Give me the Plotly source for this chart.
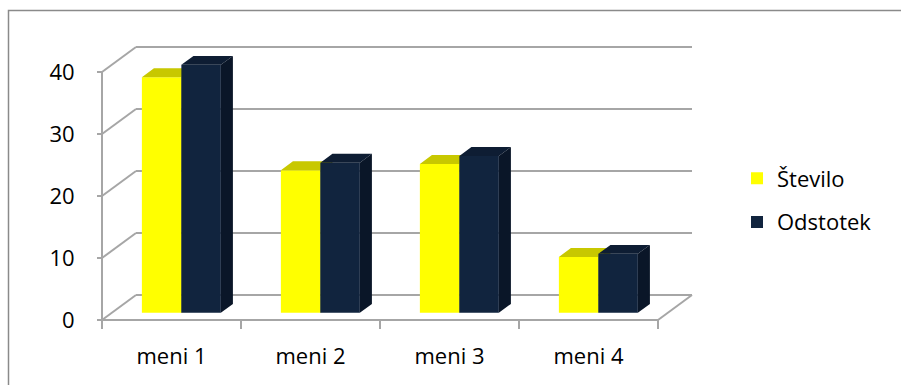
import plotly.graph_objects as go

# ---------------- data ----------------
categories = ["meni 1", "meni 2", "meni 3", "meni 4"]
stevilo = [38, 23, 24, 9]
odstotek = [40.0, 24.2, 25.3, 9.5]
y_ticks = [0, 10, 20, 30, 40]
series_names = ["Število", "Odstotek"]

# ---------------- styles / geometry ----------------
W, H = 901, 385
FONT = dict(family="Open Sans", size=22, color="#000000")
GRID = "#a6a6a6"
BORDER = "#8a8a8a"
YEL_FRONT, YEL_TOP, YEL_SIDE = "#FFFF00", "#C8C800", "#A6A600"
NAV_FRONT, NAV_TOP, NAV_SIDE = "#11243E", "#0E1D33", "#0A1628"

PX_X = 139.0        # pixels per category unit
PX_Y = 6.2          # pixels per value unit
ORIGIN_X, ORIGIN_Y = 102, 320   # pixel of front-plane (x=-0.5, y=0)
L, R, T, B = 92, 700, 40, 335   # plot area in pixels

DEPTH_X = 34 / PX_X   # full depth of the box (oblique projection)
DEPTH_Y = 25 / PX_Y
F0 = 0.29             # bars' front at this depth fraction
FD = 0.355            # bars' depth fraction
BAR_W = 0.284

x_range = [-0.5 - (ORIGIN_X - L) / PX_X, -0.5 + (R - ORIGIN_X) / PX_X]
y_range = [-(B - ORIGIN_Y) / PX_Y, (ORIGIN_Y - T) / PX_Y]
n = len(categories)
x_left, x_right = -0.5, n - 0.5
y_top = y_ticks[-1]


def px_to_paper_x(px):
    return (px - L) / (R - L)


def px_to_paper_y(py):
    return (B - py) / (B - T)


def faces(xc, vals):
    base = F0 * DEPTH_Y
    dx, dy = FD * DEPTH_X, FD * DEPTH_Y
    tx, ty, sx, sy = [], [], [], []
    for x, v in zip(xc, vals):
        xl, xr = x - BAR_W / 2, x + BAR_W / 2
        t = base + v
        tx += [xl, xr, xr + dx, xl + dx, xl, None]
        ty += [t, t, t + dy, t + dy, t, None]
        sx += [xr, xr + dx, xr + dx, xr, xr, None]
        sy += [base, base + dy, t + dy, t, base, None]
    return tx, ty, sx, sy


shift = F0 * DEPTH_X
x_yel = [i - BAR_W / 2 + shift for i in range(n)]
x_nav = [i + BAR_W / 2 + shift for i in range(n)]

fig = go.Figure()


def add_series(xc, vals, name, cf, ct, cs, xa, ya, grp):
    fig.add_trace(go.Bar(
        x=xc, y=vals, base=F0 * DEPTH_Y, width=BAR_W, name=name,
        marker=dict(color=cf, line=dict(width=0)),
        xaxis=xa, yaxis=ya, legendgroup=grp, hoverinfo="skip",
    ))
    tx, ty, sx, sy = faces(xc, vals)
    for fx, fy, c in ((tx, ty, ct), (sx, sy, cs)):
        fig.add_trace(go.Scatter(
            x=fx, y=fy, mode="lines", fill="toself", fillcolor=c,
            line=dict(width=0, color=c), showlegend=False,
            hoverinfo="skip", xaxis=xa, yaxis=ya, legendgroup=grp,
        ))


add_series(x_yel, stevilo, series_names[0], YEL_FRONT, YEL_TOP, YEL_SIDE, "x", "y", "g1")
add_series(x_nav, odstotek, series_names[1], NAV_FRONT, NAV_TOP, NAV_SIDE, "x2", "y2", "g2")

shapes = []


def line(x0, y0, x1, y1, color=GRID, width=2):
    shapes.append(dict(type="line", xref="x", yref="y", x0=x0, y0=y0, x1=x1, y1=y1,
                       line=dict(color=color, width=width), layer="below"))


# back wall + left wall gridlines
for v in y_ticks:
    line(x_left + DEPTH_X, v + DEPTH_Y, x_right + DEPTH_X, v + DEPTH_Y)
    line(x_left, v, x_left + DEPTH_X, v + DEPTH_Y)
# floor right edge
line(x_right, 0, x_right + DEPTH_X, DEPTH_Y)
# axes (front edges)
line(x_left, 0, x_right, 0)
line(x_left, 0, x_left, y_top)
# tick marks
for v in y_ticks:
    line(x_left - 5 / PX_X, v, x_left, v)
for i in range(n + 1):
    line(i - 0.5, 0, i - 0.5, -9 / PX_Y)

# outer chart border
shapes.append(dict(type="rect", xref="paper", yref="paper",
                   x0=px_to_paper_x(8.5), x1=px_to_paper_x(915),
                   y0=px_to_paper_y(400), y1=px_to_paper_y(10.5),
                   line=dict(color=BORDER, width=1.5), fillcolor="rgba(0,0,0,0)",
                   layer="below"))

fig.update_layout(
    width=W, height=H,
    margin=dict(l=L, r=W - R, t=T, b=H - B, pad=0),
    paper_bgcolor="white", plot_bgcolor="rgba(0,0,0,0)",
    font=FONT, showlegend=True, barmode="overlay",
    shapes=shapes,
    xaxis=dict(range=x_range, tickmode="array", tickvals=list(range(n)), ticktext=categories,
               showgrid=False, zeroline=False, showline=False, ticks="",
               ticklabelstandoff=6, fixedrange=True, tickfont=FONT),
    yaxis=dict(range=y_range, tickmode="array", tickvals=y_ticks,
               showgrid=False, zeroline=False, showline=False,
               ticks="outside", ticklen=12, tickcolor="rgba(0,0,0,0)",
               fixedrange=True, tickfont=FONT),
    xaxis2=dict(range=x_range, overlaying="x", anchor="y2", visible=False, fixedrange=True),
    yaxis2=dict(range=y_range, overlaying="y", anchor="x2", visible=False, fixedrange=True),
    legend=dict(x=px_to_paper_x(737), y=px_to_paper_y(200.5), xanchor="left", yanchor="middle",
                font=FONT, bgcolor="rgba(0,0,0,0)", borderwidth=0,
                traceorder="grouped", tracegroupgap=12, itemclick=False, itemdoubleclick=False),
)

fig.write_html("out.html", config={"displayModeBar": False})
